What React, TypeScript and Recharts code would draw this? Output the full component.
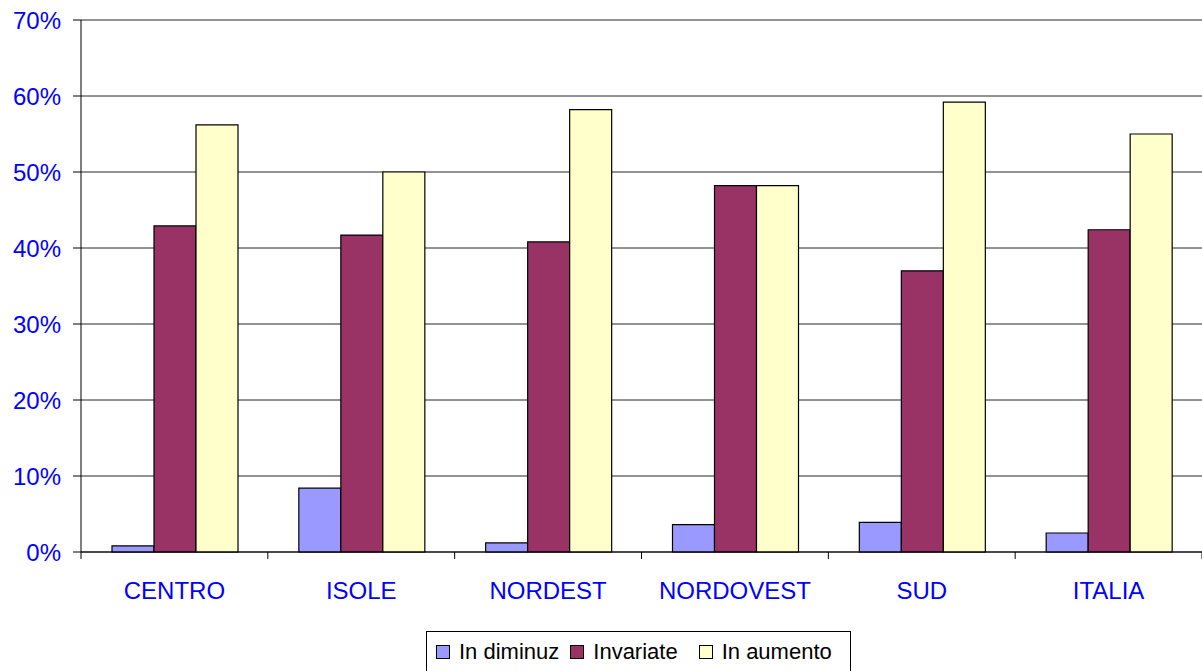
import React from "react";
import { Bar, BarChart, CartesianGrid, Legend, XAxis, YAxis } from "recharts";

const categories = ["CENTRO", "ISOLE", "NORDEST", "NORDOVEST", "SUD", "ITALIA"];
const inDiminuz = [0.8, 8.4, 1.2, 3.6, 3.9, 2.5];
const invariate = [42.9, 41.7, 40.8, 48.2, 37.0, 42.4];
const inAumento = [56.2, 50.0, 58.2, 48.2, 59.2, 55.0];
const yTicks = [0, 10, 20, 30, 40, 50, 60, 70];

const series = [
  { key: "diminuz", name: "In diminuz", color: "#9999FF" },
  { key: "invariate", name: "Invariate", color: "#993366" },
  { key: "aumento", name: "In aumento", color: "#FFFFCC" },
];

const data = categories.map((name, i) => ({
  name,
  diminuz: inDiminuz[i],
  invariate: invariate[i],
  aumento: inAumento[i],
}));

const W = 1202;
const H = 671;
const LEFT = 81;
const BAND = (W - LEFT) / categories.length;
const FONT = "Arial, 'Liberation Sans', sans-serif";

// ticks sit on the category boundaries, like Excel does
function CategoryTick(props: any) {
  const { x, y, payload, index } = props;
  const top = y - 30;
  const left = x - BAND / 2;
  return (
    <g>
      <line x1={left} y1={top} x2={left} y2={top + 7} stroke="#000" />
      {index === categories.length - 1 && (
        <line x1={left + BAND} y1={top} x2={left + BAND} y2={top + 7} stroke="#000" />
      )}
      <text
        x={x}
        y={y}
        dy="0.71em"
        textAnchor="middle"
        fill="#0000FF"
        fontSize={24}
        fontFamily={FONT}
      >
        {payload.value}
      </text>
    </g>
  );
}

function BoxLegend() {
  return (
    <div
      style={{
        position: "absolute",
        left: 426,
        top: 0,
        width: 425,
        height: 40,
        boxSizing: "border-box",
        border: "1px solid #000",
        borderBottom: "none",
        display: "flex",
        alignItems: "center",
        paddingLeft: 9,
        fontFamily: FONT,
        fontSize: 22,
        color: "#000",
      }}
    >
      {series.map((s, i) => (
        <span
          key={s.key}
          style={{ display: "flex", alignItems: "center", marginRight: i === 1 ? 21 : 11 }}
        >
          <span
            style={{
              width: 12,
              height: 12,
              background: s.color,
              border: "1px solid #000",
              marginRight: 9,
              display: "inline-block",
            }}
          />
          {s.name}
        </span>
      ))}
    </div>
  );
}

export default function App() {
  return (
    <div style={{ position: "absolute", left: 0, top: 0, background: "#fff" }}>
      <BarChart
        width={W}
        height={H}
        data={data}
        margin={{ top: 20, right: 0, left: 0, bottom: 0 }}
        barCategoryGap={31}
        barGap={0}
      >
        <CartesianGrid vertical={false} stroke="#000" strokeOpacity={0.85} />
        <XAxis
          dataKey="name"
          height={79}
          stroke="#000"
          tickLine={false}
          tickSize={0}
          tickMargin={30}
          tick={<CategoryTick />}
          interval={0}
        />
        <YAxis
          width={LEFT}
          domain={[0, 70]}
          ticks={yTicks}
          stroke="#000"
          tickSize={8}
          tickMargin={12}
          tickFormatter={(v: number) => `${v}%`}
          tick={{ fill: "#0000FF", fontSize: 24, fontFamily: FONT }}
          interval={0}
        />
        <Legend verticalAlign="bottom" height={40} content={<BoxLegend />} wrapperStyle={{ left: 0, width: W }} />
        {series.map((s) => (
          <Bar
            key={s.key}
            dataKey={s.key}
            name={s.name}
            fill={s.color}
            stroke="#000"
            strokeWidth={1.2}
            isAnimationActive={false}
          />
        ))}
      </BarChart>
    </div>
  );
}
